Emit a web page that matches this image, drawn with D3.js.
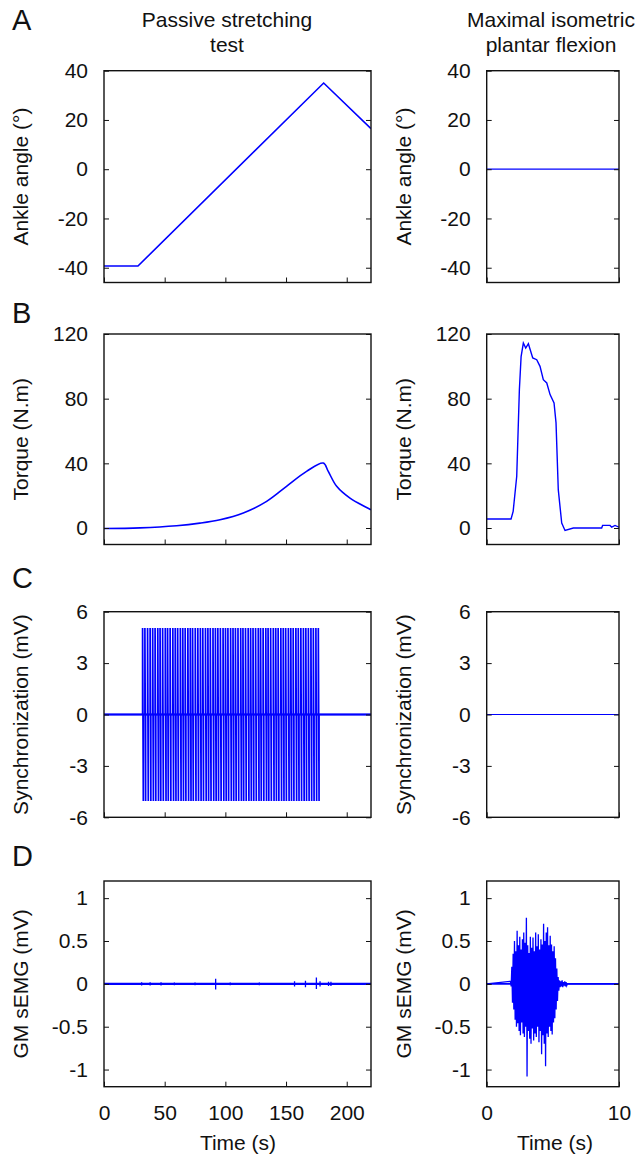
<!DOCTYPE html>
<html>
<head>
<meta charset="UTF-8">
<style>
  body { margin: 0; background: #fff; }
  svg { display: block; }
  text { font-family: "Liberation Sans", Arial, sans-serif; fill: #111; }
  .tick text { font-size: 21px; }
</style>
</head>
<body>
<svg></svg>
<script src="https://d3js.org/d3.v7.min.js"></script>
<script>
let width = 638, height = 1157;

// A - ankle angle
var angleLeftT = [0, 28, 181, 220];
var angleLeftV = [-39.3, -39.3, 35, 16.5];
var angleRightT = [0, 10];
var angleRightV = [0, 0];

// B - torque
var torqueLeftT = [0, 29.7, 59.8, 79, 95.6, 114.8, 134, 150.4, 166.9, 180.7, 184.8, 191.7, 202.7, 220];
var torqueLeftV = [-0.3, 0.1, 1.4, 3, 5.1, 9.3, 16.5, 25.8, 35, 40.2, 35, 25.8, 18.5, 11.3];
var torqueRightT = [0, 1.84, 2.0, 2.27, 2.47, 2.6, 2.77, 2.95, 3.15, 3.48, 3.78, 4.03, 4.28, 4.54, 4.79, 5.09, 5.24, 5.41, 5.67, 5.92, 6.55, 8.69, 8.76, 9.32, 9.45, 9.7, 10];
var torqueRightV = [5.6, 5.6, 10.3, 32, 85.5, 106, 114.4, 111.3, 114, 105.2, 104.1, 100, 91.7, 89.7, 82.5, 77.3, 65, 23.7, 3.1, -1.5, 0, 0, 1.6, 1.6, 0.5, 1.6, 0.5];

// C - synchronization pulses (s)
var syncPulseT = [31.8, 33.7, 35.9, 38.0, 40.1, 42.1, 44.3, 46.2, 48.3, 50.5, 52.4, 54.5, 56.7, 58.7, 60.7,
  62.9, 64.9, 66.9, 69.1, 71.1, 73.0, 75.2, 77.3, 79.4, 81.4, 83.6, 85.6, 87.6, 89.8, 91.8, 93.8, 95.9,
  98.1, 100.1, 102.1, 104.3, 106.3, 108.3, 110.4, 112.6, 114.5, 116.6, 118.8, 120.8, 122.8, 124.9, 127.1,
  129.0, 131.1, 133.3, 135.2, 137.3, 139.5, 141.5, 143.5, 145.7, 147.7, 149.7, 151.9, 153.9, 155.9, 158.1,
  160.1, 162.2, 164.3, 166.3, 168.4, 170.5, 172.5, 174.6, 176.6];
var syncAmp = 5.05;

// D - GM sEMG, min/max envelope of the maximal contraction
var emgRightT = [1.8, 1.9, 2.0, 2.1, 2.2, 2.3, 2.4, 2.5, 2.6, 2.7, 2.8, 2.9, 3.0, 3.1, 3.2, 3.3, 3.4, 3.5, 3.6, 3.7,
  3.8, 3.9, 4.0, 4.1, 4.2, 4.3, 4.4, 4.5, 4.6, 4.7, 4.8, 4.9, 5.0, 5.1, 5.2, 5.3, 5.4, 5.5, 5.6, 5.7, 5.8, 5.9, 6.0];
var emgRightHi = [0.03, 0.20, 0.35, 0.50, 0.38, 0.62, 0.45, 0.55, 0.40, 0.52, 0.60, 0.48, 0.77, 0.45, 0.36, 0.55,
  0.42, 0.54, 0.38, 0.60, 0.44, 0.58, 0.40, 0.52, 0.46, 0.70, 0.50, 0.60, 0.66, 0.45, 0.56, 0.46, 0.38, 0.44,
  0.30, 0.18, 0.08, 0.04, 0.03, 0.04, 0.02, 0.03, 0.02];
var emgRightLo = [-0.03, -0.22, -0.30, -0.42, -0.50, -0.46, -0.55, -0.60, -0.45, -0.58, -0.62, -0.50, -1.08, -0.55,
  -0.64, -0.70, -0.52, -0.66, -0.58, -0.62, -0.50, -0.68, -0.55, -0.82, -0.60, -0.70, -0.96, -0.58, -0.62, -0.50,
  -0.55, -0.59, -0.45, -0.40, -0.30, -0.20, -0.08, -0.04, -0.03, -0.04, -0.02, -0.03, -0.02];

// small spikes during passive stretching
var emgLeftT = [31, 38, 47, 58, 75, 92, 104, 128, 157, 166, 175, 178, 185, 187];
var emgLeftHi = [0.02, 0.02, 0.02, 0.015, 0.015, 0.06, 0.015, 0.015, 0.03, 0.035, 0.075, 0.03, 0.025, 0.025];
var emgLeftLo = [-0.02, -0.02, -0.02, -0.015, -0.015, -0.065, -0.015, -0.015, -0.03, -0.04, -0.06, -0.03, -0.025, -0.025];

// ticks
var leftXTicks = [0, 50, 100, 150, 200];
var rightXTicks = [0, 10];
var angleTicks = [-40, -20, 0, 20, 40];
var torqueTicks = [0, 40, 80, 120];
var syncTicks = [-6, -3, 0, 3, 6];
var emgTicks = [-1, -0.5, 0, 0.5, 1];

let svg = d3.select("svg").attr("width", width).attr("height", height);

var cols = [
  { x0: 104, x1: 371, domain: [0, 220], ticks: leftXTicks, labelX: 28 },
  { x0: 486.7, x1: 619, domain: [0, 10], ticks: rightXTicks, labelX: 411 }
];
var rows = [
  { y0: 70.7, y1: 282.5, domain: [-46, 40], ticks: angleTicks, label: "Ankle angle (°)", letter: "A", letterY: 30 },
  { y0: 334, y1: 544.5, domain: [-10.2, 120], ticks: torqueTicks, label: "Torque (N.m)", letter: "B", letterY: 323 },
  { y0: 611.7, y1: 817.3, domain: [-6, 6], ticks: syncTicks, label: "Synchronization (mV)", letter: "C", letterY: 588 },
  { y0: 881, y1: 1086.7, domain: [-1.2, 1.2], ticks: emgTicks, label: "GM sEMG (mV)", letter: "D", letterY: 866 }
];

function zip(t, v) { return t.map((d, i) => [d, v[i]]); }

// plain hyphen for negatives, like the original figure
var fmt = d => String(d);

var blue = "#0000ff";
var clipId = 0;

function panel(r, c) {
  var x = d3.scaleLinear().domain(cols[c].domain).range([cols[c].x0, cols[c].x1]);
  var y = d3.scaleLinear().domain(rows[r].domain).range([rows[r].y1, rows[r].y0]);
  var g = svg.append("g");
  var id = "clip" + (clipId++);
  svg.append("clipPath").attr("id", id).append("rect")
    .attr("x", cols[c].x0).attr("y", rows[r].y0)
    .attr("width", cols[c].x1 - cols[c].x0).attr("height", rows[r].y1 - rows[r].y0);
  var plot = g.append("g").attr("clip-path", "url(#" + id + ")");
  var line = d3.line().x(d => x(d[0])).y(d => y(d[1]));

  // axes with inward ticks
  g.append("g").attr("transform", "translate(" + cols[c].x0 + ",0)")
    .call(d3.axisLeft(y).tickValues(rows[r].ticks).tickSize(-5).tickPadding(16).tickFormat(fmt));
  g.append("g").attr("transform", "translate(" + cols[c].x1 + ",0)")
    .call(d3.axisRight(y).tickValues(rows[r].ticks).tickSize(-5).tickFormat(""));
  g.append("g").attr("transform", "translate(0," + rows[r].y1 + ")")
    .call(d3.axisBottom(x).tickValues(cols[c].ticks).tickSize(-5).tickPadding(18)
      .tickFormat(r == 3 ? fmt : ""));
  g.selectAll(".domain").remove();
  g.selectAll(".tick line").attr("stroke", "#111").attr("stroke-width", 1);
  g.selectAll(".tick text").attr("fill", "#111").attr("font-family", "Liberation Sans, Arial, sans-serif");

  return { x: x, y: y, g: g, plot: plot, line: line };
}

function frame(p, r, c) {
  p.g.append("rect")
    .attr("x", cols[c].x0).attr("y", rows[r].y0)
    .attr("width", cols[c].x1 - cols[c].x0).attr("height", rows[r].y1 - rows[r].y0)
    .attr("fill", "none").attr("stroke", "#111").attr("stroke-width", 1.4);
}

var p;
// A
p = panel(0, 0);
p.plot.append("path").datum(zip(angleLeftT, angleLeftV)).attr("d", p.line)
  .attr("fill", "none").attr("stroke", blue).attr("stroke-width", 1.6);
frame(p, 0, 0);
p = panel(0, 1);
p.plot.append("path").datum(zip(angleRightT, angleRightV)).attr("d", p.line)
  .attr("fill", "none").attr("stroke", blue).attr("stroke-width", 1.3);
frame(p, 0, 1);

// B
p = panel(1, 0);
p.plot.append("path").datum(zip(torqueLeftT, torqueLeftV)).attr("d", p.line.curve(d3.curveCatmullRom))
  .attr("fill", "none").attr("stroke", blue).attr("stroke-width", 1.6);
frame(p, 1, 0);
p = panel(1, 1);
p.plot.append("path").datum(zip(torqueRightT, torqueRightV)).attr("d", p.line)
  .attr("fill", "none").attr("stroke", blue).attr("stroke-width", 1.4);
frame(p, 1, 1);

// C
p = panel(2, 0);
var syncPts = [[0, 0]];
syncPulseT.forEach(t => {
  syncPts.push([t, 0], [t, syncAmp], [t + 0.6, -syncAmp], [t + 0.6, 0]);
});
syncPts.push([220, 0]);
p.plot.append("path").datum(syncPts).attr("d", p.line)
  .attr("fill", "none").attr("stroke", blue).attr("stroke-width", 1.7);
p.plot.append("line").attr("x1", p.x(0)).attr("x2", p.x(220)).attr("y1", p.y(0)).attr("y2", p.y(0))
  .attr("stroke", blue).attr("stroke-width", 2);
frame(p, 2, 0);
p = panel(2, 1);
p.plot.append("line").attr("x1", p.x(0)).attr("x2", p.x(10)).attr("y1", p.y(0)).attr("y2", p.y(0))
  .attr("stroke", blue).attr("stroke-width", 1.2);
frame(p, 2, 1);

// D
p = panel(3, 0);
p.plot.append("line").attr("x1", p.x(0)).attr("x2", p.x(220)).attr("y1", p.y(0)).attr("y2", p.y(0))
  .attr("stroke", blue).attr("stroke-width", 2.2);
p.plot.selectAll(".spike").data(emgLeftT).enter().append("line")
  .attr("x1", d => p.x(d)).attr("x2", d => p.x(d))
  .attr("y1", (d, i) => p.y(emgLeftHi[i])).attr("y2", (d, i) => p.y(emgLeftLo[i]))
  .attr("stroke", blue).attr("stroke-width", 1.3);
frame(p, 3, 0);

p = panel(3, 1);
var emgPts = [[0, 0]];
emgRightT.forEach((t, i) => {
  emgPts.push([t, emgRightHi[i]], [t + 0.05, emgRightLo[i]]);
});
emgPts.push([6.1, 0], [10, 0]);
p.plot.append("path").datum(emgPts).attr("d", p.line)
  .attr("fill", "none").attr("stroke", blue).attr("stroke-width", 1.3);
p.plot.append("line").attr("x1", p.x(0)).attr("x2", p.x(10)).attr("y1", p.y(0)).attr("y2", p.y(0))
  .attr("stroke", blue).attr("stroke-width", 1.8);
frame(p, 3, 1);

// y labels and panel letters
rows.forEach(r => {
  cols.forEach(c => {
    var yc = (r.y0 + r.y1) / 2;
    svg.append("text")
      .attr("transform", "translate(" + c.labelX + "," + yc + ") rotate(-90)")
      .attr("text-anchor", "middle").attr("font-size", 21)
      .text(r.label);
  });
  svg.append("text").attr("x", 12).attr("y", r.letterY).attr("font-size", 29).text(r.letter);
});

// column titles
var titles = [
  { x: 227, lines: ["Passive stretching", "test"] },
  { x: 551, lines: ["Maximal isometric", "plantar flexion"] }
];
titles.forEach(t => {
  t.lines.forEach((s, i) => {
    svg.append("text").attr("x", t.x).attr("y", 27 + i * 24.5)
      .attr("text-anchor", "middle").attr("font-size", 21).text(s);
  });
});

// x labels
svg.append("text").attr("x", 238).attr("y", 1150).attr("text-anchor", "middle").attr("font-size", 21).text("Time (s)");
svg.append("text").attr("x", 555).attr("y", 1150).attr("text-anchor", "middle").attr("font-size", 21).text("Time (s)");
</script>
</body>
</html>
